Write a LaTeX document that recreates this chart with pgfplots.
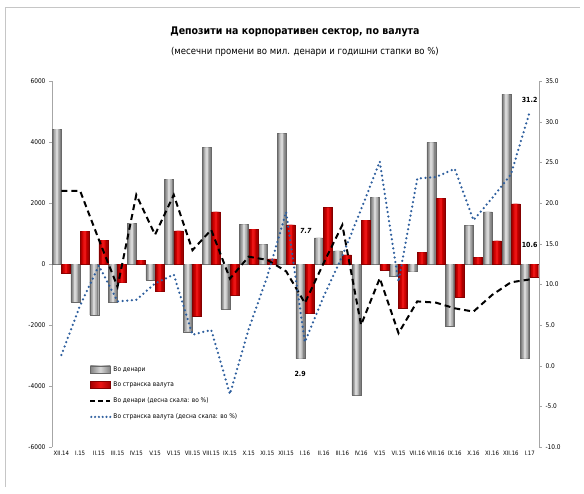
\documentclass[border=0pt]{standalone}
\usepackage{pgfplots}
\pgfplotsset{compat=1.18}
\usepackage{fontspec}
\setmainfont{DejaVu Sans Condensed}

\definecolor{grayedge}{RGB}{130,130,130}
\definecolor{graymid}{RGB}{172,172,172}
\definecolor{graylight}{RGB}{215,215,215}
\definecolor{rededge}{RGB}{165,0,0}
\definecolor{redmid}{RGB}{205,0,0}
\definecolor{redlight}{RGB}{235,20,20}
\definecolor{dotblue}{RGB}{46,95,158}

\pgfplotstableread{
x gray red
0 4420 -300
1 -1240 1080
2 -1670 780
3 -1250 -610
4 1340 130
5 -520 -900
6 2780 1090
7 -2220 -1700
8 3820 1710
9 -1480 -1020
10 1300 1140
11 640 170
12 4280 1280
13 -3100 -1620
14 860 1850
15 430 300
16 -4300 1440
17 2190 -200
18 -390 -1440
19 -250 380
20 3990 2150
21 -2030 -1090
22 1260 220
23 1710 760
24 5570 1970
25 -3100 -420
}\bars

\pgfplotstableread{
x den str
0 21.5 1.3
1 21.5 7.4
2 15.5 12.3
3 9.7 7.9
4 21.0 8.1
5 16.1 10.1
6 21.0 11.2
7 14.2 3.8
8 16.7 4.4
9 10.7 -3.5
10 13.4 4.5
11 13.0 11.0
12 11.6 18.9
13 7.7 2.9
14 12.6 8.5
15 17.3 13.5
16 5.0 19.2
17 10.75 25.1
18 4.0 10.3
19 7.9 23.0
20 7.75 23.2
21 7.05 24.2
22 6.65 17.9
23 8.7 20.6
24 10.25 23.5
25 10.6 31.2
}\rates

\begin{document}
\begin{tikzpicture}[x=1pt,y=1pt]
\useasboundingbox (0,0) rectangle (584,-494);
\draw[gray!45] (5,-487) -- (5,-7) -- (580,-7);
\node[font=\bfseries\fontsize{10.5}{12}\selectfont] at (295,-32) {Депозити на корпоративен сектор, по валута};
\node[font=\fontsize{9.5}{11}\selectfont] at (305,-52) {(месечни промени во мил. денари и годишни стапки во \%)};

\begin{axis}[
  at={(52pt,-447pt)}, anchor=south west,
  scale only axis, width=487pt, height=366pt,
  xmin=-0.5, xmax=25.5, ymin=-6000, ymax=6000,
  ytick={-6000,-4000,...,6000},
  xtick={0,...,25},
  xticklabels={XII.14,I.15,II.15,III.15,IV.15,V.15,VI.15,VII.15,VIII.15,IX.15,X.15,XI.15,XII.15,I.16,II.16,III.16,IV.16,V.15,VI.15,VII.16,VIII.16,IX.16,X.16,XI.16,XII.16,I.17},
  axis x line*=bottom, axis y line*=left,
  x axis line style={draw=none},
  y axis line style={gray!70},
  major x tick style={draw=none},
  major y tick style={gray!70},
  tick align=outside, major tick length=3pt,
  /pgf/number format/assume math mode=true,
  /pgf/number format/set thousands separator={},
  yticklabel style={font=\fontsize{6.5}{7}\selectfont},
  xticklabel style={font=\fontsize{6}{7}\selectfont, inner sep=1pt},
  legend style={at={(0.07,0.232)}, anchor=north west, draw=none, fill=none,
    font=\fontsize{6.5}{7}\selectfont, row sep=5.5pt, cells={anchor=west}},
]
% gray bars (denars): base + two lighter strips for the cylinder look
\addplot[ybar, bar width=9pt, bar shift=-4.6pt, draw=grayedge!80!black, line width=0.4pt, fill=grayedge,
  legend image code/.code={\path[draw=grayedge!80!black, left color=grayedge, right color=grayedge, middle color=graylight] (0pt,-3.5pt) rectangle (20pt,3.5pt);}]
  table[x=x, y=gray] {\bars};
\addlegendentry{Во денари}
\addplot[ybar, forget plot, bar width=5.5pt, bar shift=-4.6pt, draw=none, fill=graymid] table[x=x, y=gray] {\bars};
\addplot[ybar, forget plot, bar width=2.5pt, bar shift=-4.6pt, draw=none, fill=graylight] table[x=x, y=gray] {\bars};
% red bars (foreign currency)
\addplot[ybar, bar width=9pt, bar shift=4.6pt, draw=rededge!80!black, line width=0.4pt, fill=rededge,
  legend image code/.code={\path[draw=rededge!80!black, left color=rededge, right color=rededge, middle color=redlight] (0pt,-3.5pt) rectangle (20pt,3.5pt);}]
  table[x=x, y=red] {\bars};
\addlegendentry{Во странска валута}
\addplot[ybar, forget plot, bar width=5.5pt, bar shift=4.6pt, draw=none, fill=redmid] table[x=x, y=red] {\bars};
\addplot[ybar, forget plot, bar width=2.5pt, bar shift=4.6pt, draw=none, fill=redlight] table[x=x, y=red] {\bars};
\addlegendimage{legend image code/.code={\draw[black, line width=2pt, dash pattern=on 5pt off 3pt] (0pt,0pt) -- (20pt,0pt);}}
\addlegendentry{Во денари (десна скала: во \%)}
\addlegendimage{legend image code/.code={\draw[dotblue, line width=2.4pt, line cap=round, dash pattern=on 0pt off 3.8pt] (1pt,0pt) -- (20pt,0pt);}}
\addlegendentry{Во странска валута (десна скала: во \%)}
\end{axis}

\begin{axis}[
  at={(52pt,-447pt)}, anchor=south west,
  scale only axis, width=487pt, height=366pt,
  xmin=-0.5, xmax=25.5, ymin=-10, ymax=35,
  ytick={-10,-5,...,35},
  axis x line=none, axis y line*=right,
  y axis line style={gray!70},
  major y tick style={gray!70},
  tick align=outside, major tick length=3pt,
  /pgf/number format/assume math mode=true,
  yticklabel style={font=\fontsize{6.5}{7}\selectfont,
    /pgf/number format/.cd, fixed, fixed zerofill, precision=1},
]
\addplot[black, line width=2pt, dash pattern=on 6pt off 4pt] table[x=x, y=den] {\rates};
\addplot[dotblue, line width=2.5pt, line cap=round, dash pattern=on 0pt off 4.6pt] table[x=x, y=str] {\rates};
\node[font=\bfseries\itshape\fontsize{7}{8}\selectfont] at (axis cs:13.05,16.6) {7.7};
\node[font=\bfseries\fontsize{7}{8}\selectfont] at (axis cs:12.75,-1.0) {2.9};
\node[font=\bfseries\fontsize{7}{8}\selectfont] at (axis cs:25.0,32.7) {31.2};
\node[font=\bfseries\fontsize{7}{8}\selectfont] at (axis cs:25.0,14.9) {10.6};
\end{axis}
\end{tikzpicture}
\end{document}
